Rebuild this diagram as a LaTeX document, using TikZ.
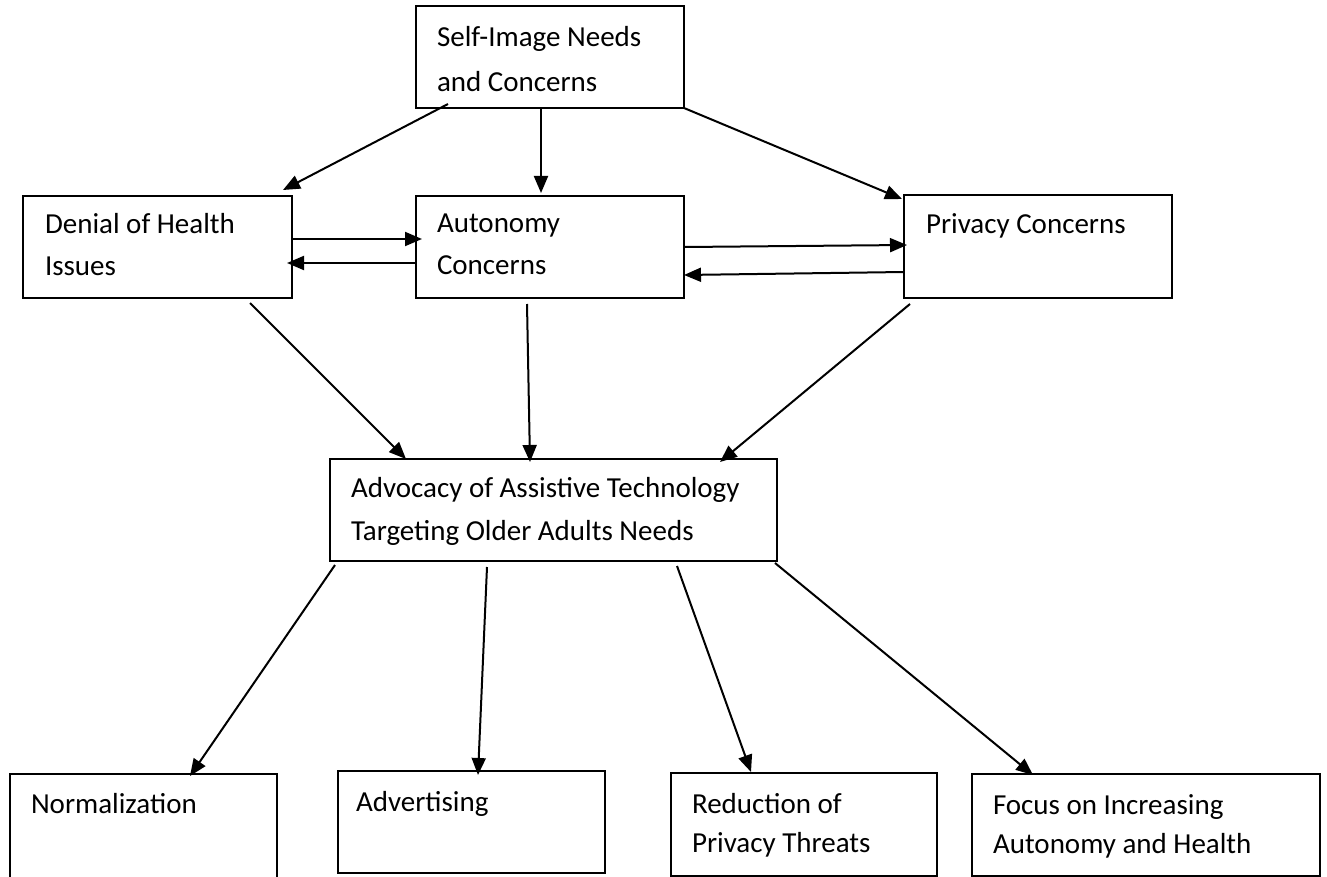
\documentclass[tikz,border=0pt]{standalone}
\usepackage{fontspec}
\setmainfont{Carlito}
\usetikzlibrary{arrows.meta,calc}
\tikzset{
  boxnode/.style={draw, line width=1.8pt, rectangle, inner sep=0pt, outer sep=0pt, anchor=north west},
  lbl/.style={anchor=north west, inner sep=0pt, outer sep=0pt, align=left, font=\fontsize{29}{#1}\selectfont},
  lbl/.default=43,
  conn/.style={line width=2pt, -{Triangle[length=17pt,width=14pt]}},
}
\begin{document}
\begin{tikzpicture}[x=1pt,y=-1pt]
\clip (0,0) rectangle (1327,877);
\fill[white] (0,0) rectangle (1327,877);
% boxes
\node[boxnode, minimum width=268pt, minimum height=102pt] (self) at (416,6) {};
\node[boxnode, minimum width=269pt, minimum height=102pt] (denial) at (23,196) {};
\node[boxnode, minimum width=268pt, minimum height=102pt] (auto) at (416,196) {};
\node[boxnode, minimum width=268pt, minimum height=103pt] (priv) at (904,195) {};
\node[boxnode, minimum width=447pt, minimum height=102pt] (adv) at (330,459) {};
\node[boxnode, minimum width=267pt, minimum height=120pt] (norm) at (10,774) {};
\node[boxnode, minimum width=267pt, minimum height=102pt] (advt) at (338,771) {};
\node[boxnode, minimum width=266pt, minimum height=103pt] (red) at (671,773) {};
\node[boxnode, minimum width=348pt, minimum height=102pt] (focus) at (972,774) {};
% labels
\node[lbl=45] (selft) at (437,15.5) {\strut Self-Image Needs\\and Concerns};
\node[lbl=42] (denialt) at (45,204.6) {\strut Denial of Health\\Issues};
\node[lbl=41] (autot) at (437,204.3) {\strut Autonomy\\Concerns};
\node[lbl] (privt) at (926,203) {\strut Privacy Concerns};
\node[lbl] (advt1) at (351,467) {\strut Advocacy of Assistive Technology\\Targeting Older Adults Needs};
\node[lbl] (normt) at (31,783) {\strut Normalization};
\node[lbl] (advtt) at (356,781) {\strut Advertising};
\node[lbl=39] (redt) at (692,785.7) {\strut Reduction of\\Privacy Threats};
\node[lbl=39] (focust) at (993,786.7) {\strut Focus on Increasing\\Autonomy and Health};
% connectors
\draw[conn] ($(self.south west)+(32,-4)$) -- ($(denial.north east)+(-9,-6)$);
\draw[conn] ($(self.south west)+(125,0)$) -- ($(auto.north west)+(125,-3)$);
\draw[conn] (self.south east) -- ($(priv.north west)+(-2,4)$);
\draw[conn] ($(denial.north east)+(0,43)$) -- ($(auto.north west)+(6,43)$);
\draw[conn] ($(auto.north west)+(0,67)$) -- ($(denial.north east)+(-5,67)$);
\draw[conn] ($(auto.north east)+(1,51)$) -- ($(priv.north west)+(3,50)$);
\draw[conn] ($(priv.north west)+(0,77)$) -- ($(auto.north east)+(0,79)$);
\draw[conn] ($(denial.south west)+(227,5)$) -- ($(adv.north west)+(76,0)$);
\draw[conn] ($(auto.south west)+(111,6)$) -- ($(adv.north west)+(200,3)$);
\draw[conn] ($(priv.south west)+(6,6)$) -- ($(adv.north west)+(390,3)$);
\draw[conn] ($(adv.south west)+(5,4)$) -- ($(norm.north west)+(180,2)$);
\draw[conn] ($(adv.south west)+(157,6)$) -- ($(advt.north west)+(140,4)$);
\draw[conn] ($(adv.south west)+(347,5)$) -- ($(red.north west)+(80,-1)$);
\draw[conn] ($(adv.south east)+(-2,2)$) -- ($(focus.north west)+(61,1)$);
\end{tikzpicture}
\end{document}
